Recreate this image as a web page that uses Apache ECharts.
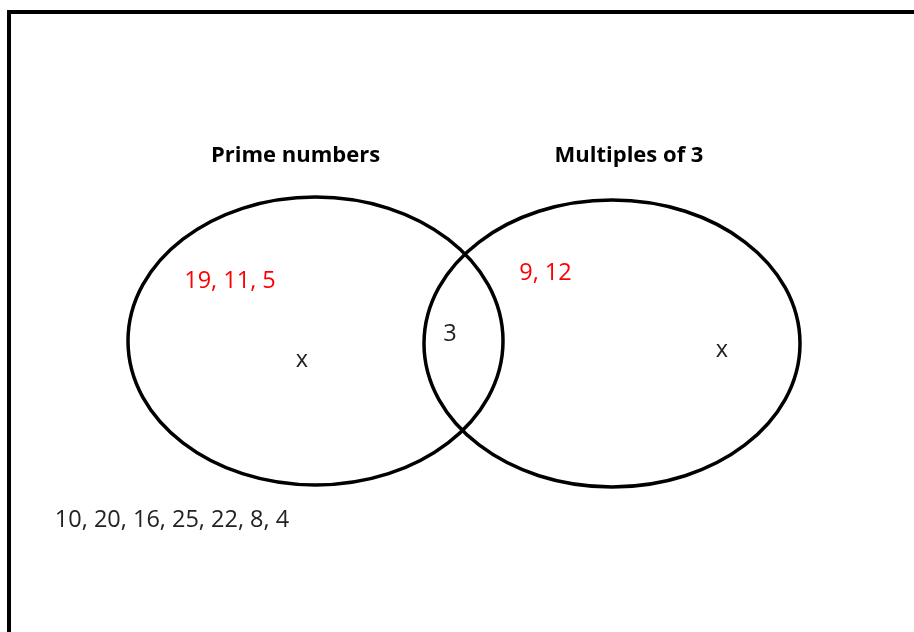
<!DOCTYPE html>
<html>
<head>
<meta charset="utf-8">
<script src="https://cdn.jsdelivr.net/npm/echarts@6/dist/echarts.min.js"></script>
<style>
    html, body { margin: 0; padding: 0; background: #fff; }
    #vennChart { width: 914px; height: 632px; }
</style>
</head>
<body>
<div id="vennChart"></div>
<script>
// sets of the venn diagram (centre x, centre y, radius x, radius y in diagram units)
const set_names = ['Prime numbers', 'Multiples of 3']
const set_cx = [315.5, 612]
const set_cy = [341, 343.5]
const set_rx = [187.5, 188]
const set_ry = [144, 143.5]

// members written into each region
const only_prime = ['19', '11', '5']
const both_sets = ['3']
const only_mult3 = ['9', '12']
const neither_set = ['10', '20', '16', '25', '22', '8', '4']
const unknown_mark = 'x'

const font_family = '"Open Sans", "DejaVu Sans", sans-serif'

const ellipse_data = set_names.map((name, idx) => [set_cx[idx], set_cy[idx], set_rx[idx], set_ry[idx], name])

// label anchor points for each piece of text
const label_data = [
    { value: [295.5, 156], text: set_names[0], bold: true, color: '#000' },
    { value: [629, 156], text: set_names[1], bold: true, color: '#000' },
    { value: [230, 281], text: only_prime.join(', '), color: '#ff0000' },
    { value: [545.5, 273], text: only_mult3.join(', '), color: '#ff0000' },
    { value: [450, 334], text: both_sets.join(', '), color: '#222' },
    { value: [302, 360], text: unknown_mark, color: '#222' },
    { value: [722, 350], text: unknown_mark, color: '#222' },
    { value: [172, 520], text: neither_set.join(', '), color: '#222' },
]

const chart = echarts.init(document.getElementById('vennChart'))

const option = {
    animation: false,
    backgroundColor: '#fff',
    grid: { left: 0, right: 0, top: 0, bottom: 0 },
    xAxis: { type: 'value', min: 0, max: 914, show: false },
    yAxis: { type: 'value', min: 0, max: 632, inverse: true, show: false },
    graphic: [
        {
            type: 'polyline',
            shape: { points: [[9, 700], [9, 12], [1000, 12]] },
            style: { fill: null, stroke: '#000', lineWidth: 4 },
        },
    ],
    series: [
        {
            type: 'custom',
            data: ellipse_data,
            renderItem(params, api) {
                const c = api.coord([api.value(0), api.value(1)])
                const s = api.size([api.value(2), api.value(3)])
                return {
                    type: 'ellipse',
                    shape: { cx: c[0], cy: c[1], rx: s[0], ry: s[1] },
                    style: { fill: null, stroke: '#000', lineWidth: 3.5 },
                }
            },
        },
        {
            type: 'custom',
            data: label_data.map(d => d.value),
            renderItem(params, api) {
                const d = label_data[params.dataIndex]
                const c = api.coord([api.value(0), api.value(1)])
                return {
                    type: 'text',
                    x: c[0],
                    y: c[1],
                    style: {
                        text: d.text,
                        fill: d.color,
                        font: `${d.bold ? 'bold 22px' : '23.5px'} ${font_family}`,
                        align: 'center',
                        verticalAlign: 'middle',
                    },
                }
            },
        },
    ],
}

chart.setOption(option)
</script>
</body>
</html>
